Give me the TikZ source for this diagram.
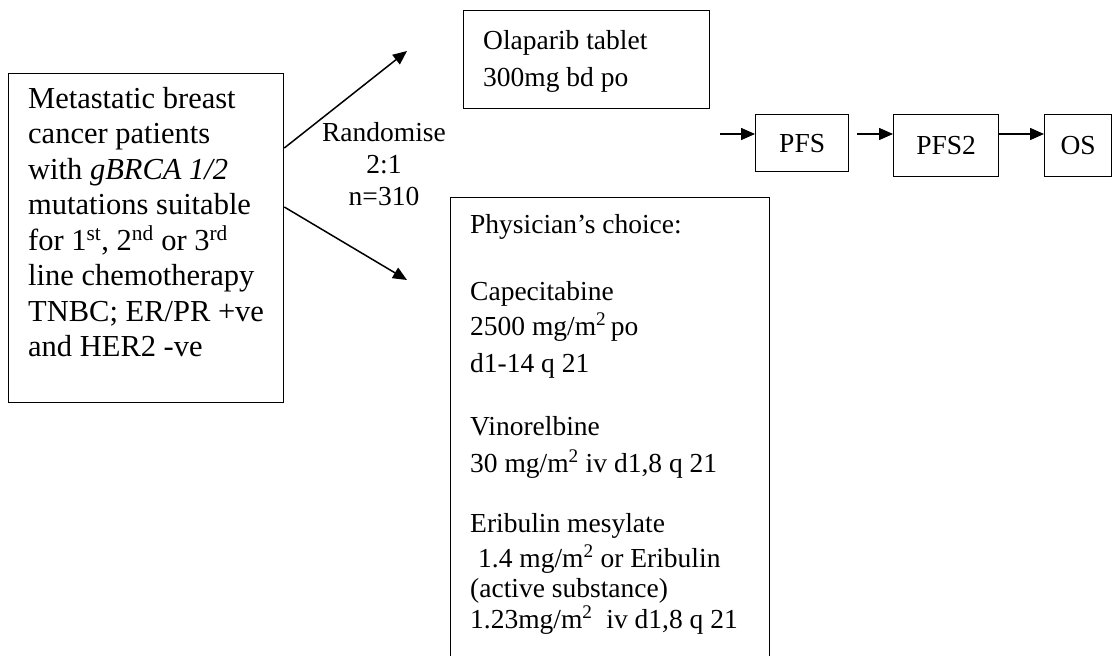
\documentclass[tikz,border=0pt]{standalone}
\usepackage{fontspec}
\setmainfont{Liberation Serif}
\usetikzlibrary{arrows.meta}
\begin{document}
\begin{tikzpicture}[x=1pt,y=-1pt,
  box/.style={draw,line width=1.3pt,inner sep=0pt,anchor=north west},
  txt/.style={anchor=base west,inner sep=0pt,font=\fontsize{27.5}{33}\selectfont},
  bigtxt/.style={anchor=base west,inner sep=0pt,font=\fontsize{30.5}{35.5}\selectfont},
  ctxt/.style={anchor=base,inner sep=0pt,font=\fontsize{27.5}{33}\selectfont},
  arr/.style={line width=1.5pt,-{Triangle[length=14pt,width=12pt]}}]
\useasboundingbox (0,0) rectangle (1112,656);

% boxes
\node[box,minimum width=275pt,minimum height=329pt] (pat) at (8,73) {};
\node[box,minimum width=246pt,minimum height=98pt] (ola) at (463,10) {};
\node[box,minimum width=319pt,minimum height=470pt] (phy) at (450,197) {};
\node[box,minimum width=93pt,minimum height=57pt] (pfs) at (755,114) {};
\node[box,minimum width=105pt,minimum height=62pt] (pfstwo) at (893,114) {};
\node[box,minimum width=67pt,minimum height=62pt] (os) at (1044,114) {};

% patient text
\node[bigtxt] (p1) at (28,108) {Metastatic breast};
\node[bigtxt] (p2) at (28,143.5) {cancer patients};
\node[bigtxt] (p3) at (28,179) {with \textit{gBRCA 1/2}};
\node[bigtxt] (p4) at (28,214.5) {mutations suitable};
\node[bigtxt] (p5) at (28,250) {for 1\textsuperscript{st}, 2\textsuperscript{nd} or 3\textsuperscript{rd}};
\node[bigtxt] (p6) at (28,285.5) {line chemotherapy};
\node[bigtxt] (p7) at (28,321) {TNBC; ER/PR +ve};
\node[bigtxt] (p8) at (28,356.5) {and HER2 -ve};

% randomise
\node[ctxt] (r1) at (384,141) {Randomise};
\node[ctxt] (r2) at (384,173) {2:1};
\node[ctxt] (r3) at (384,205) {n=310};

% olaparib
\node[txt] (o1) at (483,49) {Olaparib tablet};
\node[txt] (o2) at (483,86) {300mg bd po};

% physician's choice
\node[txt] (c1) at (470,233) {Physician’s choice:};
\node[txt] (c2) at (470,300) {Capecitabine};
\node[txt] (c3) at (470,335) {2500 mg/m\textsuperscript{2}\,po};
\node[txt] (c4) at (470,372) {d1-14 q 21};
\node[txt] (c5) at (470,435) {Vinorelbine};
\node[txt] (c6) at (470,472) {30 mg/m\textsuperscript{2} iv d1,8 q 21};
\node[txt] (c7) at (470,532) {Eribulin mesylate};
\node[txt] (c8) at (470,567) {\hspace*{8pt}1.4 mg/m\textsuperscript{2} or Eribulin};
\node[txt] (c9) at (470,597) {(active substance)};
\node[txt] (c10) at (470,628) {1.23mg/m\textsuperscript{2}\ \ iv d1,8 q 21};

% endpoints text
\node[ctxt] at (pfs.center) [anchor=center] {PFS};
\node[ctxt] at (pfstwo.center) [anchor=center] {PFS2};
\node[ctxt] at (os.center) [anchor=center] {OS};

% arrows
\coordinate (upS) at (283,148);
\coordinate (upE) at (407,51);
\coordinate (dnS) at (283,207);
\coordinate (dnE) at (407,280);
\draw[arr] (pat.east |- upS) -- (upE);
\draw[arr] (pat.east |- dnS) -- (dnE);

\coordinate (a1) at (720,134);
\coordinate (a2) at (857,134);
\draw[arr] (a1) -- (pfs.west |- a1);
\draw[arr] (a2) -- (pfstwo.west |- a2);
\draw[arr] (pfstwo.east |- a2) -- (os.west |- a2);
\end{tikzpicture}
\end{document}
